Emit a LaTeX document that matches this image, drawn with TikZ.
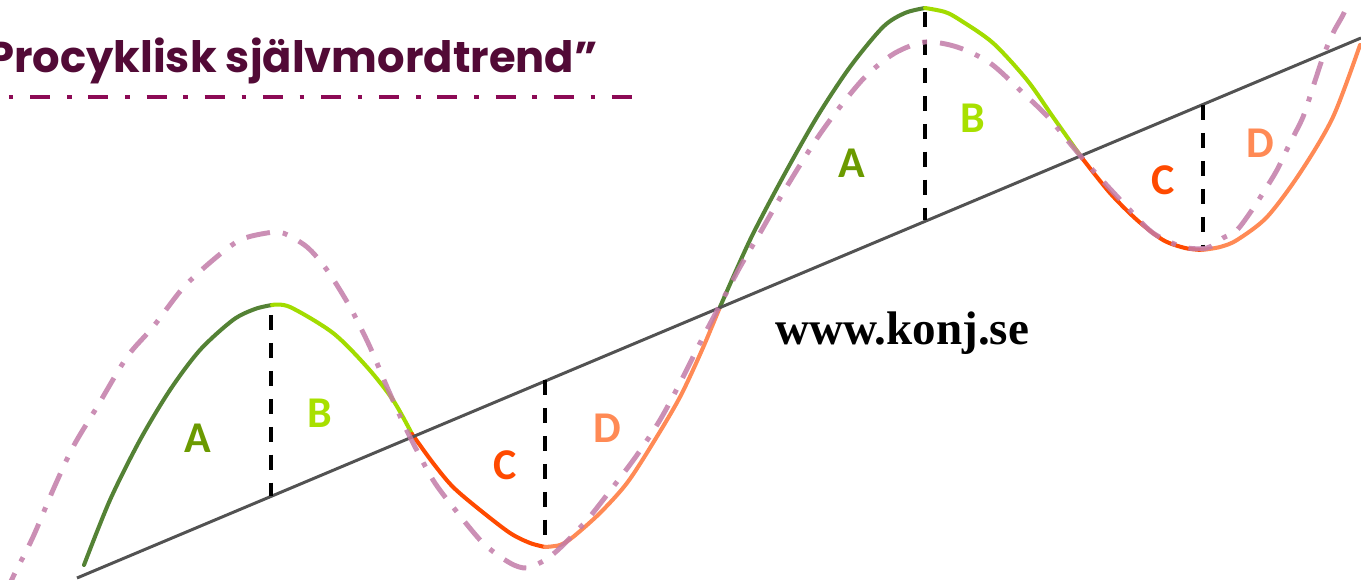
\documentclass[tikz,border=0pt]{standalone}
\usepackage{fontspec}
\usepackage{xcolor}
\usepackage{tikz}
\usetikzlibrary{positioning,calc}
\newfontfamily\titlefont{Poppins}
\newfontfamily\lblfont{Carlito}
\newfontfamily\webfont{Liberation Serif}

\definecolor{upA}{HTML}{548235}
\definecolor{upB}{HTML}{A2DC00}
\definecolor{downC}{HTML}{FF4A00}
\definecolor{downD}{HTML}{FF8A55}
\definecolor{lblA}{HTML}{6B9A00}
\definecolor{lblB}{HTML}{A8E000}
\definecolor{procyc}{HTML}{C27BA8}
\definecolor{titlec}{HTML}{520A36}
\definecolor{rulec}{HTML}{8C0A55}

\begin{document}
\begin{tikzpicture}[
  x=0.2mm, y=-0.2mm,
  phase/.style={line width=2.3pt, line cap=round},
  trend/.style={line width=1.7pt, black!68},
  divider/.style={line width=1.8pt, dash pattern=on 8.5pt off 7.4pt},
  pro/.style={line width=2.8pt, procyc, opacity=0.85,
              dash pattern=on 13.6pt off 7.4pt on 2.8pt off 7.4pt},
  lbl/.style={font=\lblfont\bfseries\fontsize{25}{30}\selectfont, inner sep=0pt},
  ttl/.style={font=\titlefont\bfseries\fontsize{24.6}{30}\selectfont, text=titlec, inner sep=0pt},
  web/.style={font=\webfont\bfseries\fontsize{26.8}{32}\selectfont, inner sep=0pt},
  rule/.style={line width=2.8pt, rulec,
               dash pattern=on 11.4pt off 9.6pt on 2.6pt off 9.5pt}
]
\useasboundingbox (0,0) rectangle (1361,580);
\clip (0,0) rectangle (1361,580);

% title
\node[ttl, anchor=base east] (title) at (598,73) {Procyklisk självmordtrend”};
\coordinate (r0) at (-28,97);
\coordinate (r1) at (634,97);
\draw[rule] (r0) -- (r1);

% turning points of the cycle
\coordinate (s0) at (84,565);
\coordinate (p1) at (272,305);
\coordinate (x1) at (412,434);
\coordinate (t1) at (545,547);
\coordinate (x2) at (720,307);
\coordinate (p2) at (925,8);
\coordinate (x3) at (1082,158);
\coordinate (t2) at (1202,250);
\coordinate (e0) at (1360,45);

\draw[phase, upA] plot[smooth] coordinates {(s0) (110,500) (140,440) (170,390) (200,350) (233,320) (255,309) (p1)};
\draw[phase, upB] plot[smooth] coordinates {(p1) (290,307) (333,333) (367,367) (393,400) (x1)};
\draw[phase, downC] plot[smooth] coordinates {(x1) (433,463) (453,487) (480,510) (510,533) (530,543) (t1)};
\draw[phase, downD] plot[smooth] coordinates {(t1) (560,545) (573,537) (600,513) (627,483) (653,443) (680,397) (702,350) (x2)};
\draw[phase, upA] plot[smooth] coordinates {(x2) (750,240) (783,177) (817,117) (850,67) (883,27) (905,13) (p2)};
\draw[phase, upB] plot[smooth] coordinates {(p2) (945,12) (960,20) (993,43) (1027,80) (1053,117) (x3)};
\draw[phase, downC] plot[smooth] coordinates {(x3) (1110,193) (1137,220) (1163,240) (1185,248) (t2)};
\draw[phase, downD] plot[smooth] coordinates {(t2) (1220,247) (1237,240) (1267,217) (1300,173) (1333,117) (e0)};

% trend
\coordinate (tr0) at (77,578);
\coordinate (tr1) at (1361,38);
\draw[trend] (tr0) -- (tr1);

% phase dividers
\coordinate (d1a) at (271,315);  \coordinate (d1b) at (271,496);
\coordinate (d2a) at (545,380);  \coordinate (d2b) at (545,543);
\coordinate (d3a) at (925,12);   \coordinate (d3b) at (925,220);
\coordinate (d4a) at (1203,105); \coordinate (d4b) at (1203,247);
\draw[divider] (d1a) -- (d1b);
\draw[divider] (d2a) -- (d2b);
\draw[divider] (d3a) -- (d3b);
\draw[divider] (d4a) -- (d4b);

% procyclical curve
\draw[pro] plot[smooth] coordinates {(5,595) (13,577) (33,537) (53,490) (73,447) (97,407) (127,357)
  (153,327) (183,288) (213,260) (240,240) (267,233) (283,233) (307,247) (327,270) (350,307)
  (370,347) (387,387) (405,427) (413,443) (433,480) (453,507) (483,543) (510,563) (527,568)
  (545,560) (560,548) (587,520) (613,487) (637,455) (660,420) (680,383) (700,343) (720,305)
  (740,267) (760,233) (780,198) (800,165) (820,134) (843,103) (867,75) (895,53) (925,42)
  (957,47) (990,63) (1022,92) (1048,117) (1073,147) (1090,167) (1127,207) (1153,233)
  (1183,247) (1207,248) (1223,238) (1237,230) (1252,210) (1263,193) (1277,170) (1290,143)
  (1303,117) (1313,87) (1323,57) (1333,33) (1343,15) (1348,3)};

% phase letters
\node[lbl, text=lblA] (a1) at (198,438) {A};
\node[lbl, text=lblB] (b1) at (320,413) {B};
\node[lbl, text=downC] (c1) at (505,465) {C};
\node[lbl, text=downD] (dd1) at (607,428) {D};
\node[lbl, text=lblA] (a2) at (852,163) {A};
\node[lbl, text=lblB] (b2) at (973,118) {B};
\node[lbl, text=downC] (c2) at (1163,180) {C};
\node[lbl, text=downD] (dd2) at (1260,143) {D};

\node[web, anchor=base west] (site) at (775,345) {www.konj.se};
\end{tikzpicture}
\end{document}
